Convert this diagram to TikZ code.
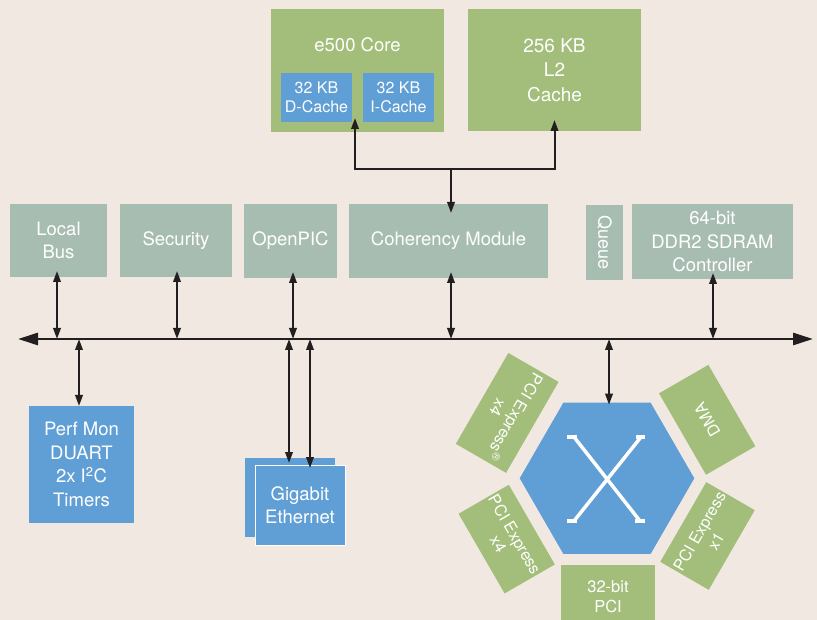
\documentclass[tikz,border=0pt]{standalone}
\usepackage{fontspec}
\setmainfont{TeX Gyre Heros}
\usetikzlibrary{arrows.meta,shapes.geometric}
\definecolor{bg}{HTML}{F1E9E1}
\definecolor{grn}{HTML}{A2BE7A}
\definecolor{blu}{HTML}{609FD6}
\definecolor{gry}{HTML}{A8BDB2}
\definecolor{ink}{HTML}{231F20}
\begin{document}
\begin{tikzpicture}[x=1pt,y=-1pt,
 box/.style={inner sep=0pt, outer sep=0pt, text=white, align=center, font=\fontsize{18.5}{23.5}\selectfont},
 gbox/.style={box, fill=grn},
 bbox/.style={box, fill=blu},
 sbox/.style={box, fill=gry},
 small/.style={font=\fontsize{16}{19}\selectfont},
 dbl/.style={ink, line width=2pt, {Triangle[length=11pt,width=7.5pt]}-{Triangle[length=11pt,width=7.5pt]}},
 one/.style={ink, line width=2pt, -{Triangle[length=11pt,width=7.5pt]}},
 busline/.style={ink, line width=2.7pt, {Triangle[length=20pt,width=12pt]}-{Triangle[length=20pt,width=12pt]}},
 xmark/.style={white, line width=3.5pt},
]
\path[use as bounding box, fill=bg] (0,0) rectangle (817,620);

% top blocks
\node[gbox, minimum width=173pt, minimum height=123pt] (e500) at (357.5,70.5) {};
\node[box] (e500lbl) at (357.5,45) {e500 Core};
\node[bbox, small, minimum width=71pt, minimum height=49pt] (dcache) at (316.5,97.5) {32 KB\\D-Cache};
\node[bbox, small, minimum width=71pt, minimum height=49pt] (icache) at (398.5,97.5) {32 KB\\I-Cache};
\node[gbox, minimum width=173pt, minimum height=122pt, font=\fontsize{19}{24.5}\selectfont] (l2) at (554.5,70) {256 KB\\L2\\Cache};

% middle row
\node[sbox, minimum width=97pt, minimum height=73pt] (lb) at (58.5,240.5) {Local\\Bus};
\node[sbox, minimum width=112pt, minimum height=73pt] (sec) at (176,240.5) {Security};
\node[sbox, minimum width=93pt, minimum height=74pt] (opic) at (290.5,241) {OpenPIC};
\node[sbox, minimum width=199pt, minimum height=74pt] (coh) at (448.5,241) {Coherency Module};
\node[sbox, rotate=-90, minimum width=75pt, minimum height=37pt, font=\fontsize{18}{22}\selectfont] (queue) at (604.5,242.5) {Queue};
\node[sbox, minimum width=161pt, minimum height=75pt] (ddr) at (712.5,241.5) {64-bit\\DDR2 SDRAM\\Controller};

% lower blocks
\node[bbox, minimum width=105pt, minimum height=117pt] (perf) at (81.5,464.5) {Perf Mon\\DUART\\2x I\textsuperscript{2}C\\Timers};
\node[bbox, minimum width=90pt, minimum height=79pt] (geback) at (290,497.5) {};
\node[bbox, draw=white, line width=1pt, minimum width=90pt, minimum height=80pt] (gefront) at (300,505) {Gigabit\\Ethernet};

% crossbar
\node[regular polygon, regular polygon sides=6, fill=blu, minimum size=174.6pt, inner sep=0pt, outer sep=0pt] (hex) at (607,478.3) {};
\draw[xmark] (574,437) -- (640,521);
\draw[xmark] (641,437) -- (574,521);
\draw[xmark] (567,437) -- (577,437);
\draw[xmark] (636,437) -- (645,437);
\draw[xmark] (567,521) -- (577,521);
\draw[xmark] (635,521) -- (645,521);

\node[gbox, small, rotate=-120, minimum width=105pt, minimum height=58pt] (pcitl) at (507.2,412.9) {PCI Express\textsuperscript{\textregistered}\\x4};
\node[gbox, small, rotate=120, minimum width=94pt, minimum height=57pt] (dma) at (707.2,419.8) {DMA};
\node[gbox, small, rotate=-60, minimum width=92pt, minimum height=58pt] (pcibl) at (506.7,539.1) {PCI Express\\x4};
\node[gbox, small, rotate=60, minimum width=92pt, minimum height=56pt] (pcibr) at (707.5,536) {PCI Express\\x1};
\node[gbox, minimum width=94pt, minimum height=55pt] (pci32) at (608,592.5) {};
\node[box, font=\fontsize{16.5}{20}\selectfont] (pci32lbl) at (608,597) {32-bit\\PCI};

% core to L2 / coherency
\coordinate (j) at (451,169);
\coordinate (dtip) at ([xshift=3pt,yshift=4pt]dcache.south east);
\coordinate (ltip) at ([yshift=11pt]l2.south);
\draw[dbl] (dtip) -- (dtip |- j) -- (ltip |- j) -- (ltip);
\draw[one] (j) -- ([xshift=2.5pt,yshift=-9pt]coh.north);

% bus
\coordinate (busL) at (18,339);
\coordinate (busR) at (813,339);
\draw[busline] (busL) -- (busR);

\draw[dbl] ([xshift=-1.5pt,yshift=6pt]lb.south) -- ([xshift=-1.5pt]lb.south |- busL);
\draw[dbl] ([xshift=1pt,yshift=6pt]sec.south) -- ([xshift=1pt]sec.south |- busL);
\draw[dbl] ([xshift=2.5pt,yshift=6pt]opic.south) -- ([xshift=2.5pt]opic.south |- busL);
\draw[dbl] ([xshift=2.5pt,yshift=6pt]coh.south) -- ([xshift=2.5pt]coh.south |- busL);
\draw[dbl] ([xshift=0.5pt,yshift=6pt]ddr.south) -- ([xshift=0.5pt]ddr.south |- busL);

\draw[dbl] ([xshift=-2.5pt]perf.north |- busL) -- ([xshift=-2.5pt]perf.north);
\draw[dbl] ([xshift=-1pt]geback.north |- busL) -- ([xshift=-1pt,yshift=-5pt]geback.north);
\draw[dbl] ([xshift=10pt]gefront.north |- busL) -- ([xshift=10pt,yshift=-3pt]gefront.north);
\draw[dbl] ([xshift=2pt]hex.north |- busL) -- ([xshift=2pt,yshift=-2pt]hex.north);
\end{tikzpicture}
\end{document}
